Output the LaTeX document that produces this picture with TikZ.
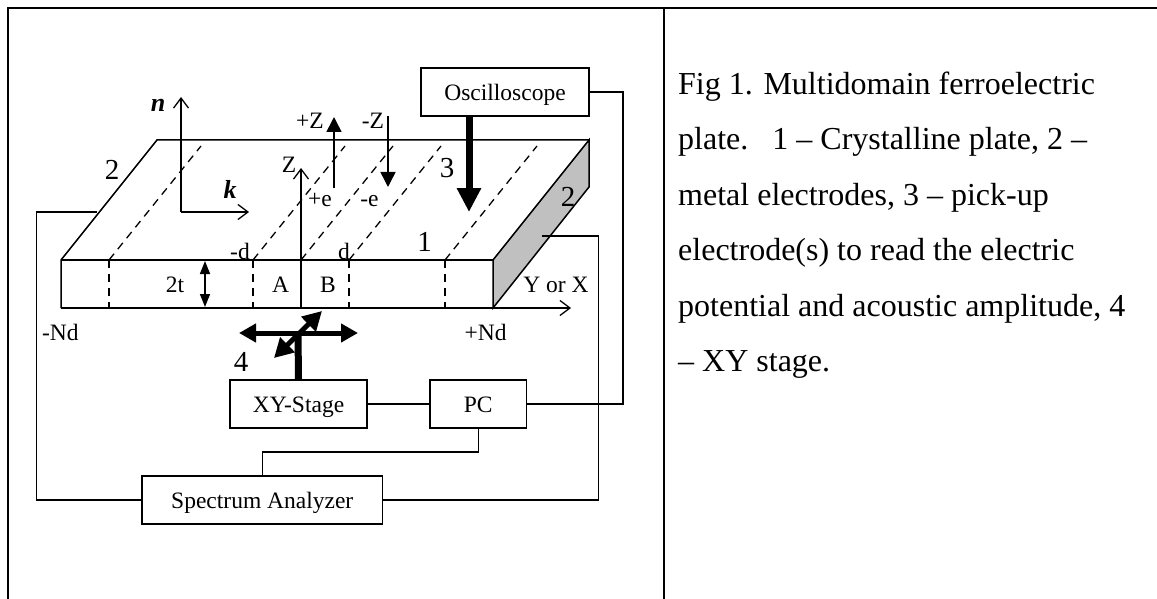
\documentclass[tikz,border=0pt]{standalone}
\usepackage{fontspec}
\setmainfont{Liberation Serif}
\usetikzlibrary{arrows.meta}
\tikzset{
  thin line/.style={line width=1.5pt},
  frameline/.style={line width=2.2pt},
  dashline/.style={line width=1.3pt, dash pattern=on 8pt off 6pt},
  barb/.style={thin line, -{Straight Barb[length=10pt,width=15pt,line width=1.3pt]}},
  filledsmall/.style={thin line, -{Triangle[length=15pt,width=15pt]}},
  devicebox/.style={draw, line width=1.5pt, fill=white, inner sep=0pt, text height=17pt, text depth=0pt, font=\fontsize{23.5}{26}\selectfont},
  lab/.style={anchor=base, inner sep=0pt, font=\fontsize{23.5}{26}\selectfont},
  biglab/.style={anchor=base, inner sep=0pt, font=\fontsize{29}{32}\selectfont},
  veclab/.style={anchor=base, inner sep=0pt, font=\fontsize{26}{28}\selectfont\bfseries\itshape},
  caption/.style={anchor=north west, inner sep=0pt, align=left, font=\fontsize{32}{55.5}\selectfont}
}
\begin{document}
\begin{tikzpicture}[x=1pt,y=-1pt]
\useasboundingbox (0,0) rectangle (1157,599);
% frame
\coordinate (fa) at (8,599); \coordinate (fb) at (8,8); \coordinate (fc) at (1157,8);
\coordinate (fd) at (664,8); \coordinate (fe) at (664,599);
\draw[frameline] (fa) -- (fb) -- (fc);
\draw[frameline] (fd) -- (fe);
% plate corners
\coordinate (p1) at (61,260); \coordinate (p2) at (493,260); \coordinate (p3) at (493,308);
\coordinate (p4) at (61,308); \coordinate (p5) at (157,140); \coordinate (p6) at (589,140);
\coordinate (p7) at (589,187);
\draw[thin line, fill={rgb,255:red,192;green,192;blue,192}] (p2) -- (p6) -- (p7) -- (p3) -- cycle;
\draw[thin line] (p4) -- (p1) -- (p5) -- (p6);
\draw[thin line] (p1) -- (p2);
\draw[thin line] (p4) -- (p3);
% domain walls
\foreach \n/\xa in {a/109,b/253,d/349,e/445}{
  \coordinate (wt\n) at (\xa,260); \coordinate (wb\n) at (\xa,308);
  \draw[dashline] (wt\n) -- (wb\n);
}
\foreach \n/\xa in {a/109,b/253,c/301,d/349,e/445}{
  \coordinate (ws\n) at (\xa,260); \coordinate (we\n) at ({\xa+92},146);
  \draw[dashline] (ws\n) -- (we\n);
}
% axes
\coordinate (o) at (181,212); \coordinate (ntip) at (181,97); \coordinate (ktip) at (249,212);
\draw[barb] (o) -- (ntip);
\draw[barb] (o) -- (ktip);
\coordinate (zb) at (301,308); \coordinate (zt) at (301,168);
\draw[barb] (zb) -- (zt);
\coordinate (yb) at (453,308); \coordinate (yt) at (571,308);
\draw[barb] (yb) -- (yt);
\coordinate (pzb) at (334,188); \coordinate (pzt) at (334,117);
\draw[filledsmall] (pzb) -- (pzt);
\coordinate (mzt) at (388,116); \coordinate (mzb) at (388,187);
\draw[filledsmall] (mzt) -- (mzb);
\coordinate (ta) at (205,261); \coordinate (tb) at (205,307);
\draw[thin line, {Triangle[length=13pt,width=10pt]}-{Triangle[length=13pt,width=10pt]}] (ta) -- (tb);
% boxes
\node[devicebox, minimum width=168pt, minimum height=48pt] (osc) at (505,92) {Oscilloscope};
\node[devicebox, minimum width=137pt, minimum height=48pt] (xy) at (298.5,404) {XY-Stage};
\node[devicebox, minimum width=96.5pt, minimum height=48pt] (pc) at (478.25,404) {PC};
\node[devicebox, minimum width=240.5pt, minimum height=48pt] (sa) at (262.25,500) {Spectrum Analyzer};
% pick-up arrow
\draw[line width=7pt, -{Triangle[length=24pt,width=23pt]}] (osc.south -| 469,0) -- (469,212);
% stage arrows
\coordinate (hl) at (239,333); \coordinate (hr) at (358,333);
\coordinate (dl) at (274,358); \coordinate (dr) at (322,311); \coordinate (st) at (298,333);
\draw[line width=5pt, {Triangle[length=17pt,width=18pt]}-{Triangle[length=17pt,width=18pt]}] (hl) -- (hr);
\draw[line width=5pt, {Triangle[length=19pt,width=20pt]}-{Triangle[length=19pt,width=20pt]}] (dl) -- (dr);
\draw[line width=7pt] (xy.north) -- (st);
% wiring
\coordinate (cR) at (623,250);
\draw[thin line] (xy.east) -- (pc.west);
\draw[thin line] (osc.east) -| (cR) |- (pc.east);
\coordinate (mid) at (262.25,452);
\draw[thin line] (pc.south) |- (mid) -- (sa.north);
\coordinate (cL) at (36.6,212); \coordinate (cLe) at (97,212);
\draw[thin line] (sa.west) -| (cL) -- (cLe);
\coordinate (cE) at (598.5,236); \coordinate (cEe) at (542,236);
\draw[thin line] (sa.east) -| (cE) -- (cEe);
% labels
\node[veclab] (ln) at (158,112) {n};
\node[veclab] (lk) at (230,198) {k};
\node[biglab] (l2a) at (112,179) {2};
\node[biglab] (l2b) at (568,207) {2};
\node[biglab] (l3) at (447,178) {3};
\node[biglab] (l1) at (424.5,251) {1};
\node[biglab] (l4) at (241,371) {4};
\node[lab] (lpz) at (310,129) {+Z};
\node[lab] (lmz) at (373,129) {-Z};
\node[lab] (lz) at (289,172) {Z};
\node[lab] (lpe) at (320,207) {+e};
\node[lab] (lme) at (369.5,207) {-e};
\node[lab] (lmd) at (240,259) {-d};
\node[lab] (ld) at (344,259) {d};
\node[lab] (l2t) at (175,292) {2t};
\node[lab] (la) at (280.5,292) {A};
\node[lab] (lb) at (328,292) {B};
\node[lab] (ly) at (556,292) {Y or X};
\node[lab] (lmn) at (60.4,340) {-Nd};
\node[lab] (lpn) at (485.7,340) {+Nd};
% caption
\node[caption] (cap) at (678,71.5) {Fig 1. Multidomain ferroelectric\\
plate.\ \ \ 1 – Crystalline plate, 2 –\\
metal electrodes, 3 – pick-up\\
electrode(s) to read the electric\\
potential and acoustic amplitude, 4\\
– XY stage.};
\end{tikzpicture}
\end{document}
